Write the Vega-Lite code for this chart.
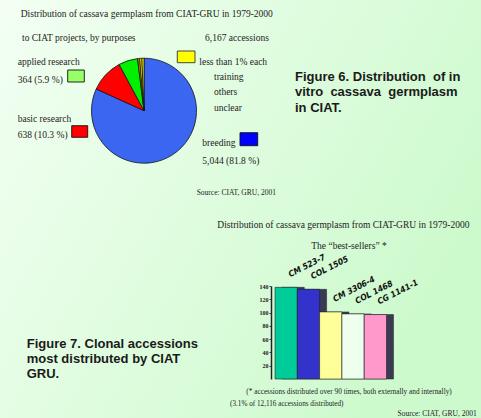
{
  "$schema": "https://vega.github.io/schema/vega-lite/v6.json",
  "width": 481,
  "height": 418,
  "autosize": {"type": "none"},
  "padding": 0,
  "background": "#e6fbe6",
  "config": {"view": {"stroke": null}},
  "data": {"values": [
    {"clone": "CM 523-7", "n": 138},
    {"clone": "COL 1505", "n": 135},
    {"clone": "CM 3306-4", "n": 101},
    {"clone": "COL 1468", "n": 98},
    {"clone": "CG 1141-1", "n": 97}
  ]},
  "resolve": {"scale": {"color": "independent"}},
  "layer": [
    {
      "data": {"values": [{}]},
      "mark": {"type": "rect", "x": 0, "x2": 481, "y": 0, "y2": 418,
        "fill": {"gradient": "linear", "x1": 0, "y1": 0, "x2": 1, "y2": 0.5,
          "stops": [{"offset": 0, "color": "#f3fff3"}, {"offset": 1, "color": "#cdfacd"}]}},
      "encoding": {}
    },
    {
      "data": {"values": [
        {"purpose": "breeding", "count": 5044, "k": 1},
        {"purpose": "basic research", "count": 638, "k": 2},
        {"purpose": "applied research", "count": 364, "k": 3},
        {"purpose": "training", "count": 40, "k": 4},
        {"purpose": "others", "count": 41, "k": 5},
        {"purpose": "unclear", "count": 40, "k": 6}
      ]},
      "mark": {"type": "arc", "radius": 52.5, "x": 144, "y": 110.7, "stroke": "#111", "strokeWidth": 0.8},
      "encoding": {
        "theta": {"field": "count", "type": "quantitative", "stack": true},
        "order": {"field": "k", "type": "quantitative"},
        "color": {"field": "purpose", "type": "nominal", "legend": null,
          "scale": {"domain": ["breeding", "basic research", "applied research", "training", "others", "unclear"],
                    "range": ["#3a66f2", "#ff0000", "#00f000", "#c89000", "#ffff00", "#ffff00"]}}
      }
    },
    {"data": {"values": [{}]}, "mark": {"type": "rect", "x": 67.7, "x2": 84.3, "y": 70, "y2": 82, "fill": "#99ff66", "stroke": "#111", "strokeWidth": 0.9}, "encoding": {}},
    {"data": {"values": [{}]}, "mark": {"type": "rect", "x": 71.7, "x2": 87.7, "y": 125.7, "y2": 137.3, "fill": "#ff0000", "stroke": "#111", "strokeWidth": 0.9}, "encoding": {}},
    {"data": {"values": [{}]}, "mark": {"type": "rect", "x": 177.3, "x2": 195, "y": 51, "y2": 62.7, "fill": "#ffff00", "stroke": "#333", "strokeWidth": 0.9}, "encoding": {}},
    {"data": {"values": [{}]}, "mark": {"type": "rect", "x": 240, "x2": 257.7, "y": 132.7, "y2": 145.7, "fill": "#0000ff", "stroke": "#111", "strokeWidth": 0.9}, "encoding": {}},

    {"data": {"values": [{}]}, "mark": {"type": "text", "x": 20.7, "y": 14, "align": "left", "baseline": "middle", "font": "Liberation Serif", "fontSize": 9.5, "color": "#222", "text": "Distribution of cassava germplasm from CIAT-GRU in 1979-2000"}, "encoding": {}},
    {"data": {"values": [{}]}, "mark": {"type": "text", "x": 22, "y": 37.7, "align": "left", "baseline": "middle", "font": "Liberation Serif", "fontSize": 9.5, "color": "#222", "text": "to CIAT projects, by purposes"}, "encoding": {}},
    {"data": {"values": [{}]}, "mark": {"type": "text", "x": 205, "y": 37.7, "align": "left", "baseline": "middle", "font": "Liberation Serif", "fontSize": 9.5, "color": "#222", "text": "6,167 accessions"}, "encoding": {}},
    {"data": {"values": [{}]}, "mark": {"type": "text", "x": 17.7, "y": 57.3, "align": "left", "baseline": "top", "font": "Liberation Serif", "fontSize": 9.5, "lineHeight": 17.6, "color": "#222", "text": ["applied research", "364 (5.9 %)"]}, "encoding": {}},
    {"data": {"values": [{}]}, "mark": {"type": "text", "x": 17.7, "y": 113.6, "align": "left", "baseline": "top", "font": "Liberation Serif", "fontSize": 9.5, "lineHeight": 16, "color": "#222", "text": ["basic research", "638 (10.3 %)"]}, "encoding": {}},
    {"data": {"values": [{}]}, "mark": {"type": "text", "x": 199.3, "y": 61.7, "align": "left", "baseline": "middle", "font": "Liberation Serif", "fontSize": 9.5, "color": "#222", "text": "less than 1% each"}, "encoding": {}},
    {"data": {"values": [{}]}, "mark": {"type": "text", "x": 214, "y": 71.6, "align": "left", "baseline": "top", "font": "Liberation Serif", "fontSize": 9.5, "lineHeight": 15.5, "color": "#222", "text": ["training", "others", "unclear"]}, "encoding": {}},
    {"data": {"values": [{}]}, "mark": {"type": "text", "x": 202.3, "y": 138.3, "align": "left", "baseline": "top", "font": "Liberation Serif", "fontSize": 9.5, "lineHeight": 17.6, "color": "#222", "text": ["breeding", "5,044 (81.8 %)"]}, "encoding": {}},
    {"data": {"values": [{}]}, "mark": {"type": "text", "x": 196.7, "y": 192.7, "align": "left", "baseline": "middle", "font": "Liberation Serif", "fontSize": 7.5, "color": "#222", "text": "Source: CIAT, GRU, 2001"}, "encoding": {}},
    {"data": {"values": [{}]}, "mark": {"type": "text", "x": 295, "y": 70.7, "align": "left", "baseline": "top", "font": "Liberation Sans", "fontWeight": "bold", "fontSize": 13, "lineHeight": 15.5, "color": "#1a1a1a", "text": ["Figure 6. Distribution\u00a0 of in", "vitro\u00a0 cassava\u00a0 germplasm", "in CIAT."]}, "encoding": {}},

    {"data": {"values": [{}]}, "mark": {"type": "text", "x": 217.3, "y": 225, "align": "left", "baseline": "middle", "font": "Liberation Serif", "fontSize": 9.5, "color": "#222", "text": "Distribution of cassava germplasm from CIAT-GRU in 1979-2000"}, "encoding": {}},
    {"data": {"values": [{}]}, "mark": {"type": "text", "x": 349, "y": 245.7, "align": "center", "baseline": "middle", "font": "Liberation Serif", "fontSize": 9.5, "color": "#222", "text": "The \u201cbest-sellers\u201d *"}, "encoding": {}},
    {"data": {"values": [{}]}, "mark": {"type": "text", "x": 349, "y": 392, "align": "center", "baseline": "middle", "font": "Liberation Serif", "fontSize": 7.3, "color": "#222", "text": "(* accessions distributed over 90 times, both externally and internally)"}, "encoding": {}},
    {"data": {"values": [{}]}, "mark": {"type": "text", "x": 230, "y": 404.3, "align": "left", "baseline": "middle", "font": "Liberation Serif", "fontSize": 7.2, "color": "#222", "text": "(3.1% of 12,116 accessions distributed)"}, "encoding": {}},
    {"data": {"values": [{}]}, "mark": {"type": "text", "x": 476.7, "y": 414, "align": "right", "baseline": "middle", "font": "Liberation Serif", "fontSize": 7.5, "color": "#222", "text": "Source: CIAT, GRU, 2001"}, "encoding": {}},
    {"data": {"values": [{}]}, "mark": {"type": "text", "x": 26.7, "y": 338.3, "align": "left", "baseline": "top", "font": "Liberation Sans", "fontWeight": "bold", "fontSize": 13, "lineHeight": 15, "color": "#1a1a1a", "text": ["Figure 7. Clonal accessions", "most distributed by CIAT", "GRU."]}, "encoding": {}},

    {
      "mark": {"type": "bar", "xOffset": 7, "fill": "#3a3a55", "stroke": "#222", "strokeWidth": 0.5},
      "encoding": {
        "x": {"field": "clone", "type": "nominal", "sort": null, "axis": null,
              "scale": {"range": [275, 386.5], "paddingInner": 0, "paddingOuter": 0}},
        "y": {"field": "n", "type": "quantitative",
              "scale": {"domain": [0, 140], "range": [379, 286]},
              "axis": {"offset": -271, "zindex": 2, "values": [20, 40, 60, 80, 100, 120, 140], "title": null, "grid": false,
                       "domainColor": "#222", "domainWidth": 1.5, "tickColor": "#444", "tickSize": 2,
                       "labelFont": "Liberation Serif", "labelFontWeight": "bold", "labelFontSize": 6, "labelColor": "#222", "labelPadding": 1}}
      }
    },
    {
      "mark": {"type": "bar", "stroke": "#222", "strokeWidth": 0.6},
      "encoding": {
        "x": {"field": "clone", "type": "nominal", "sort": null},
        "y": {"field": "n", "type": "quantitative"},
        "color": {"field": "clone", "type": "nominal", "legend": null, "sort": null,
          "scale": {"domain": ["CM 523-7", "COL 1505", "CM 3306-4", "COL 1468", "CG 1141-1"],
                    "range": ["#00cc99", "#3333cc", "#ffff99", "#eeffee", "#ff99cc"]}}
      }
    },
    {
      "mark": {"type": "text", "align": "left", "baseline": "alphabetic", "angle": -27, "xOffset": 4, "yOffset": -10,
               "font": "DejaVu Sans Condensed, Liberation Sans", "fontStyle": "italic", "fontWeight": "bold", "fontSize": 8.5, "color": "#111"},
      "encoding": {
        "x": {"field": "clone", "type": "nominal", "sort": null},
        "y": {"field": "n", "type": "quantitative"},
        "text": {"field": "clone"}
      }
    }
  ]
}
